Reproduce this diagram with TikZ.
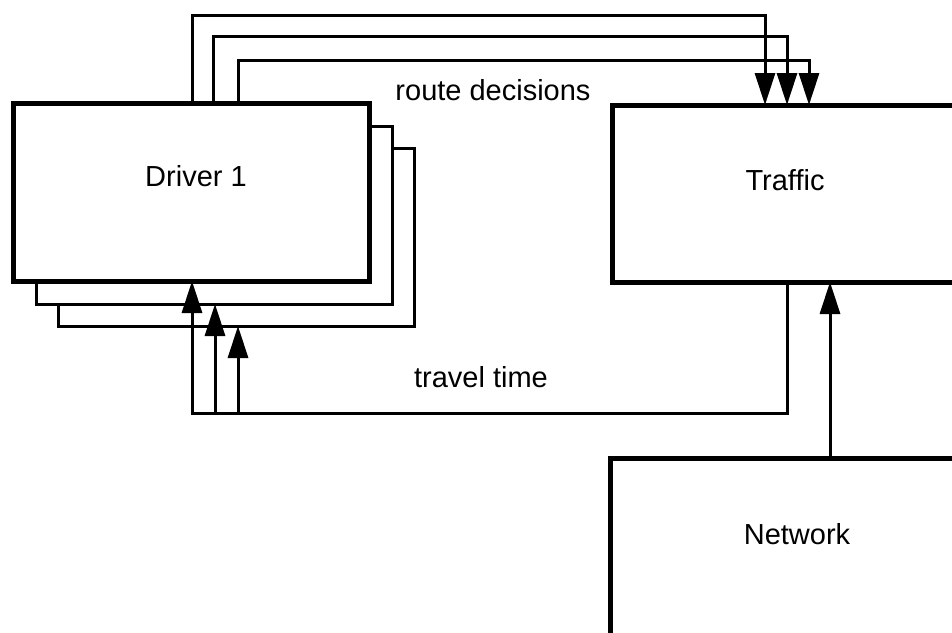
\documentclass[tikz,border=0pt]{standalone}
\usepackage{fontspec}
\setmainfont{Liberation Sans}
\usetikzlibrary{arrows.meta}
\tikzset{
  mainbox/.style={draw,line width=5pt,fill=white,inner sep=0pt,outer sep=0pt},
  shadowbox/.style={draw,line width=3pt,fill=white,inner sep=0pt,outer sep=0pt,minimum width=356pt,minimum height=178pt},
  conn/.style={line width=3pt},
  arr/.style={conn,-{Triangle[length=32pt,width=20pt]}},
  lbl/.style={anchor=base,inner sep=0pt,font=\fontsize{29}{34}\selectfont}
}
\begin{document}
\begin{tikzpicture}[x=1pt,y=-1pt]
\useasboundingbox (0,0) rectangle (952,632);
\clip (0,0) rectangle (952,632);
% driver stack
\node[shadowbox] (s2) at (236,237) {};
\node[shadowbox] (s1) at (214,215) {};
\node[mainbox,minimum width=356pt,minimum height=178pt] (driver) at (191,192) {};
% traffic and network (extend beyond the picture)
\node[mainbox,minimum width=400pt,minimum height=177pt] (traffic) at (812,193.5) {};
\node[mainbox,minimum width=400pt,minimum height=342pt] (network) at (810,629) {};
% labels
\node[lbl] (tD) at (196,186) {Driver 1};
\node[lbl] (tT) at (785,190) {Traffic};
\node[lbl] (tN) at (797,544) {Network};
\node[lbl] (tR) at (493,100) {route decisions};
\node[lbl] (tV) at (481,387) {travel time};
% route decisions
\draw[arr] (192,0 |- driver.north) |- (765,15) -- (765,0 |- traffic.north);
\draw[arr] (213,0 |- driver.north) |- (787,36) -- (787,0 |- traffic.north);
\draw[arr] (238,0 |- driver.north) |- (809,60) -- (809,0 |- traffic.north);
% travel time
\draw[arr] (787,0 |- traffic.south) |- (192,413) -- (192,0 |- driver.south);
\draw[arr] (215,413) -- (215,0 |- s1.south);
\draw[arr] (238,413) -- (238,0 |- s2.south);
% network to traffic
\draw[arr] (830,0 |- network.north) -- (830,0 |- traffic.south);
\end{tikzpicture}
\end{document}
